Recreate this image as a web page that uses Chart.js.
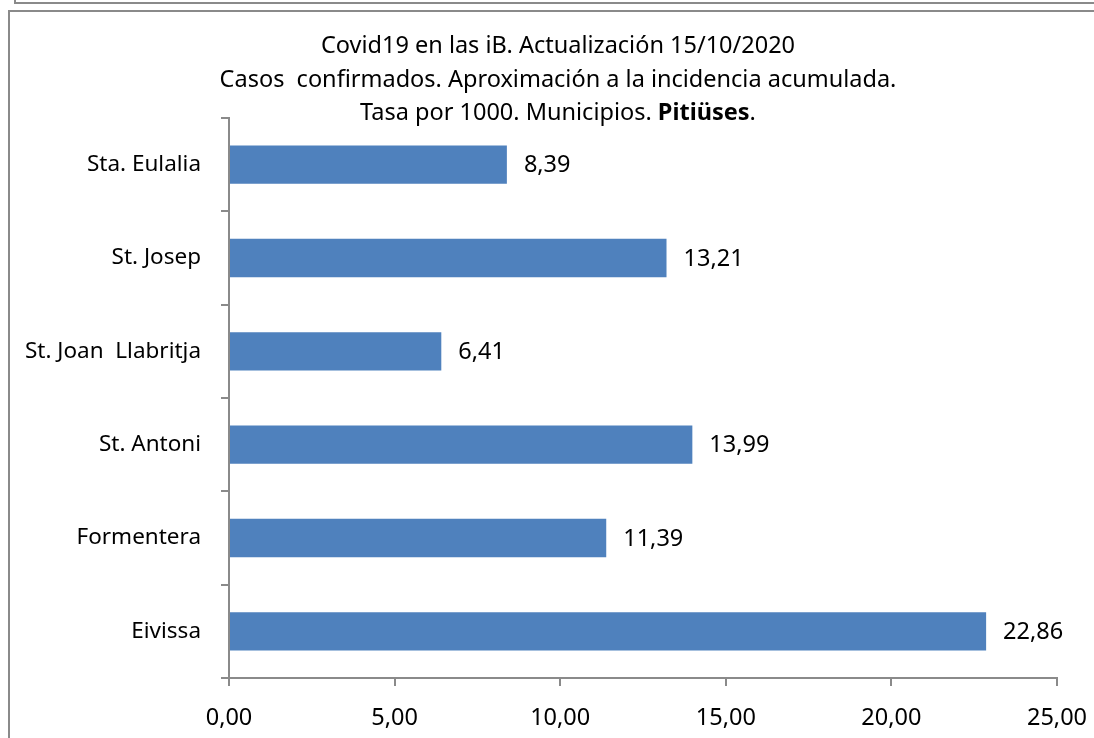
<!DOCTYPE html>
<html>
<head>
<meta charset="utf-8">
<script src="https://cdn.jsdelivr.net/npm/chart.js@4/dist/chart.umd.min.js"></script>
<style>
  body { margin: 0; background: #fff; overflow: hidden; }
  #marcoArriba { position: absolute; left: 14px; top: -12px; width: 1100px; height: 12px; border: 2px solid #8a8a8a; }
  #marco { position: absolute; left: 8px; top: 10px; width: 1110px; height: 760px; border: 2px solid #8a8a8a; }
  #caja { position: absolute; left: 0; top: 0; width: 1094px; height: 738px; }
</style>
</head>
<body>
<div id="marcoArriba"></div>
<div id="marco"></div>
<div id="caja"><canvas id="grafico"></canvas></div>
<script>
// Datos
let municipios = ['Sta. Eulalia', 'St. Josep', 'St. Joan  Llabritja', 'St. Antoni', 'Formentera', 'Eivissa'];
let tasas = [8.39, 13.21, 6.41, 13.99, 11.39, 22.86];
let ticksX = [0, 5, 10, 15, 20, 25];

let titulo1 = 'Covid19 en las iB. Actualización 15/10/2020';
let titulo2 = 'Casos  confirmados. Aproximación a la incidencia acumulada.';
let titulo3a = 'Tasa por 1000. Municipios. ';
let titulo3b = 'Pitiüses';
let titulo3c = '.';

const fuente = '"Noto Sans", "Open Sans", sans-serif';
const gris = '#8a8a8a';

function coma(v) {
    return v.toFixed(2).replace('.', ',');
}

// Título con la última palabra en negrita
const pluginTitulo = {
    id: 'titulo',
    afterDraw(chart) {
        let ctx = chart.ctx;
        let cx = 558;
        ctx.save();
        ctx.fillStyle = '#000';
        ctx.textBaseline = 'middle';
        ctx.textAlign = 'center';
        let normal = '23.5px ' + fuente;
        let negrita = 'bold 23.5px ' + fuente;
        ctx.font = normal;
        ctx.fillText(titulo1, cx, 46);
        ctx.fillText(titulo2, cx, 80);
        // tercera línea: medir las partes
        let wa = ctx.measureText(titulo3a).width;
        let wc = ctx.measureText(titulo3c).width;
        ctx.font = negrita;
        let wb = ctx.measureText(titulo3b).width;
        let x = cx - (wa + wb + wc) / 2;
        ctx.textAlign = 'left';
        ctx.font = normal;
        ctx.fillText(titulo3a, x, 113);
        ctx.font = negrita;
        ctx.fillText(titulo3b, x + wa, 113);
        ctx.font = normal;
        ctx.fillText(titulo3c, x + wa + wb, 113);
        ctx.restore();
    }
};

// Etiquetas de valor a la derecha de cada barra
const pluginValores = {
    id: 'valores',
    afterDatasetsDraw(chart) {
        let ctx = chart.ctx;
        let meta = chart.getDatasetMeta(0);
        ctx.save();
        ctx.fillStyle = '#000';
        ctx.font = '23.5px ' + fuente;
        ctx.textAlign = 'left';
        ctx.textBaseline = 'middle';
        meta.data.forEach(function(barra, i) {
            ctx.fillText(coma(tasas[i]), barra.x + 17, barra.y + 1);
        });
        ctx.restore();
    }
};

function crearGrafico() {
    let ctx = document.getElementById('grafico').getContext('2d');
    new Chart(ctx, {
        type: 'bar',
        data: {
            labels: municipios,
            datasets: [{
                data: tasas,
                backgroundColor: '#4f81bd',
                borderWidth: 0,
                barPercentage: 0.41,
                categoryPercentage: 1
            }]
        },
        options: {
            indexAxis: 'y',
            responsive: true,
            maintainAspectRatio: false,
            animation: false,
            layout: { padding: { top: 118, right: 37, left: 0, bottom: 0 } },
            plugins: {
                legend: { display: false },
                tooltip: { enabled: false }
            },
            scales: {
                x: {
                    min: ticksX[0],
                    max: ticksX[ticksX.length - 1],
                    afterBuildTicks(scale) {
                        scale.ticks = ticksX.map(v => ({ value: v }));
                    },
                    afterFit(scale) {
                        scale.height = 60;
                        scale.paddingRight = 0;
                        scale.paddingLeft = 0;
                    },
                    border: { display: true, color: gris, width: 2 },
                    grid: { drawOnChartArea: false, drawTicks: true, tickLength: 8, color: gris, lineWidth: 2 },
                    ticks: {
                        color: '#000',
                        padding: 18,
                        maxRotation: 0,
                        font: { family: fuente, size: 23.5 },
                        callback: function(v) { return coma(v); }
                    }
                },
                y: {
                    afterFit(scale) { scale.width = 229; },
                    border: { display: true, color: gris, width: 2 },
                    grid: { drawOnChartArea: false, drawTicks: true, tickLength: 8, color: gris, lineWidth: 2, offset: true },
                    ticks: {
                        color: '#000',
                        padding: 20,
                        font: { family: fuente, size: 22.5 }
                    }
                }
            }
        },
        plugins: [pluginTitulo, pluginValores]
    });
}

document.addEventListener('DOMContentLoaded', crearGrafico);
</script>
</body>
</html>
